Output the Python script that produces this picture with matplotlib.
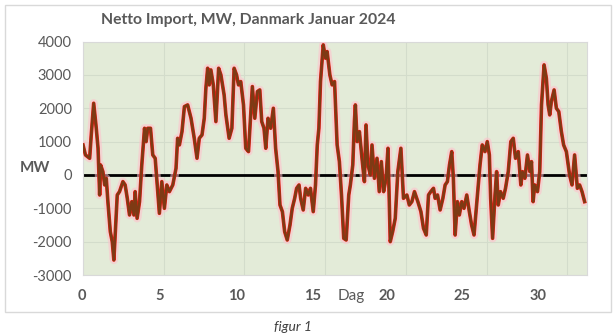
import matplotlib
matplotlib.use("Agg")
import matplotlib.pyplot as plt

# dag i januar og netto import i MW
dag = [0.0, 0.15, 0.41, 0.51, 0.66, 0.82, 0.93, 1.03, 1.09, 1.23, 1.34, 1.44, 1.54, 1.69,
       1.81, 1.91, 2.02, 2.12, 2.26, 2.47, 2.61, 2.74, 2.88, 3.02, 3.15, 3.23, 3.35, 3.50,
       3.64, 3.81, 3.91, 4.01, 4.18, 4.32, 4.47, 4.63, 4.73, 4.88, 5.04, 5.19, 5.35, 5.56,
       5.76, 5.86, 5.97, 6.13, 6.28, 6.48, 6.69, 6.89, 7.06, 7.20, 7.37, 7.51, 7.61, 7.72,
       7.82, 7.92, 8.07, 8.23, 8.40, 8.54, 8.74, 8.85, 9.05, 9.22, 9.36, 9.51, 9.63, 9.77,
       9.94, 10.08, 10.25, 10.49, 10.64, 10.80, 10.95, 11.07, 11.21, 11.32, 11.46, 11.62,
       11.79, 11.93, 12.08, 12.20, 12.35, 12.49, 12.65, 12.82, 12.96, 13.11, 13.23, 13.38,
       13.48, 13.64, 13.79, 13.95, 14.09, 14.26, 14.40, 14.51, 14.61, 14.71, 14.88, 15.02,
       15.12, 15.29, 15.43, 15.58, 15.74, 15.88, 16.01, 16.15, 16.30, 16.46, 16.56, 16.71,
       16.81, 16.87, 16.98, 17.12, 17.28, 17.43, 17.53, 17.65, 17.80, 17.90, 18.05, 18.21,
       18.35, 18.48, 18.62, 18.77, 18.89, 19.03, 19.18, 19.34, 19.50, 19.69, 19.85, 20.06,
       20.21, 20.37, 20.53, 20.74, 20.93, 21.09, 21.26, 21.40, 21.54, 21.71, 21.81, 21.96,
       22.12, 22.29, 22.43, 22.57, 22.70, 22.84, 22.94, 23.05, 23.19, 23.31, 23.46, 23.60,
       23.77, 23.93, 24.07, 24.22, 24.38, 24.49, 24.59, 24.73, 24.90, 25.04, 25.17, 25.25,
       25.37, 25.52, 25.62, 25.72, 25.86, 26.03, 26.17, 26.34, 26.50, 26.65, 26.79, 26.96,
       27.12, 27.22, 27.37, 27.53, 27.68, 27.78, 27.88, 27.98, 28.15, 28.29, 28.40, 28.56,
       28.70, 28.81, 28.91, 29.01, 29.18, 29.32, 29.47, 29.63, 29.77, 29.94, 30.14, 30.29,
       30.45, 30.62, 30.76, 30.91, 31.07]
mw = [900, 600, 500, 1200, 2150, 1400, 800, -600, 300, 100, -300, -100, -800, -1700,
      -2000, -2550, -1500, -600, -500, -200, -300, -700, -1200, -800, -1200, -500, -1300, -800,
      300, 1400, 1000, 1400, 1400, 600, 500, -500, -1150, -200, -1000, -300, -500, -300,
      200, 1100, 900, 1300, 2050, 2100, 1700, 1100, 500, 1100, 1200, 1700, 2600, 3200,
      2700, 3150, 2700, 1600, 3200, 3000, 2400, 1800, 1100, 1400, 3200, 3000, 2700, 2800,
      2100, 800, 700, 2650, 1700, 2500, 2550, 1600, 1400, 800, 1700, 1400,
      2000, 800, 100, -900, -1100, -1700, -1950, -1500, -1000, -700, -400, -300,
      -700, -1050, -400, -600, -400, -1100, -300, 900, 1400, 2800, 3900, 3500,
      3700, 3000, 2700, 2800, 900, 400, -600, -1900, -1950, -600, -300, 300,
      1600, 2100, 1000, 1300, 500, -200, 1500, 300, 0, 900, -100, 500,
      -500, 400, -500, -100, 800, -2000, -1700, -1300, 100, 800, -700, -600,
      -900, -800, -500, -800, -1100, -1600, -1800, -600, -500, -400, -700, -600,
      -1050, -700, -300, -200, 300, 700, -100, -1800, -800, -1200, -800, -1000,
      -600, -1100, -1500, -1800, -900, -300, 300, 900, 700, 1000, 600, -700,
      -1900, -600, 100, -900, -500, -700, -400, 100, 1000, 1100, 500, 700,
      -300, 100, -100, 600, 100, 400, -800, -300, -500, 100, 2100, 3300,
      2900, 2100, 1800, 2200, 2550, 2000, 1900, 1300, 900, 700, 0, -300,
      600, -400, -300, -500, -800]

yticks = [-3000, -2000, -1000, 0, 1000, 2000, 3000, 4000]
xgrid = [0, 5, 10, 15, 20, 25, 30]
xlabels = ["0", "5", "10", "15", "20", "25", "30"]
# labels sidder lidt forskudt i forhold til gitteret
xlabel_pos = [-0.06, 4.75, 9.5, 14.2, 18.8, 23.5, 28.2]

grey = "#595959"
plt.rcParams["font.family"] = ["Lato", "DejaVu Sans"]

fig = plt.figure(figsize=(6.15, 3.35), dpi=100)
ax = fig.add_axes([0.135, 0.179, 0.819, 0.697])
ax.set_facecolor("#e3ebd8")

ax.set_xlim(0, 31.2)
ax.set_ylim(-3000, 4000)
ax.set_yticks(yticks)
ax.set_yticklabels([str(v) for v in yticks], color=grey, fontsize=10.5)
ax.set_xticks(xgrid)
ax.set_xticklabels([])
ax.tick_params(length=0, pad=8)
ax.grid(True, color="#d3dccb", linewidth=0.8)
ax.set_axisbelow(True)
for s in ax.spines.values():
    s.set_color("#d9d9d9")
    s.set_linewidth(0.8)

ax.axhline(0, color="black", linewidth=2, zorder=2)

# glød + rød + brun kerne
ax.plot(dag, mw, color="#ffc0cc", linewidth=6, alpha=0.55, zorder=3, solid_joinstyle="round")
ax.plot(dag, mw, color="#e01e12", linewidth=2.6, zorder=4, solid_joinstyle="round")
ax.plot(dag, mw, color="#7e3a14", linewidth=1.8, zorder=5, solid_joinstyle="round")

xt = ax.get_xaxis_transform()
for p, lab in zip(xlabel_pos, xlabels):
    ax.text(p, -0.06, lab, transform=xt, ha="center", va="top",
            fontsize=10.5, fontweight="bold", color=grey)
ax.text(16.6, -0.06, "Dag", transform=xt, ha="center", va="top", fontsize=11, color=grey)

ax.text(-0.095, 0, "MW", transform=ax.get_yaxis_transform(), ha="center", va="bottom",
        fontsize=11, fontweight="bold", color=grey)

fig.text(248 / 615, 1 - 20 / 335, "Netto Import, MW, Danmark Januar 2024", ha="center",
         va="center", fontsize=11.3, fontweight="bold", color=grey)
fig.text(293 / 615, 1 - 327 / 335, "figur 1", ha="center", va="center", fontsize=10,
         style="italic", color="#404040")

border = plt.Rectangle((5 / 615, 1 - 312 / 335), 606 / 615, 307 / 335, transform=fig.transFigure,
                       fill=False, edgecolor="#d9d9d9", linewidth=1)
fig.add_artist(border)

fig.savefig("out.png", dpi=100)
